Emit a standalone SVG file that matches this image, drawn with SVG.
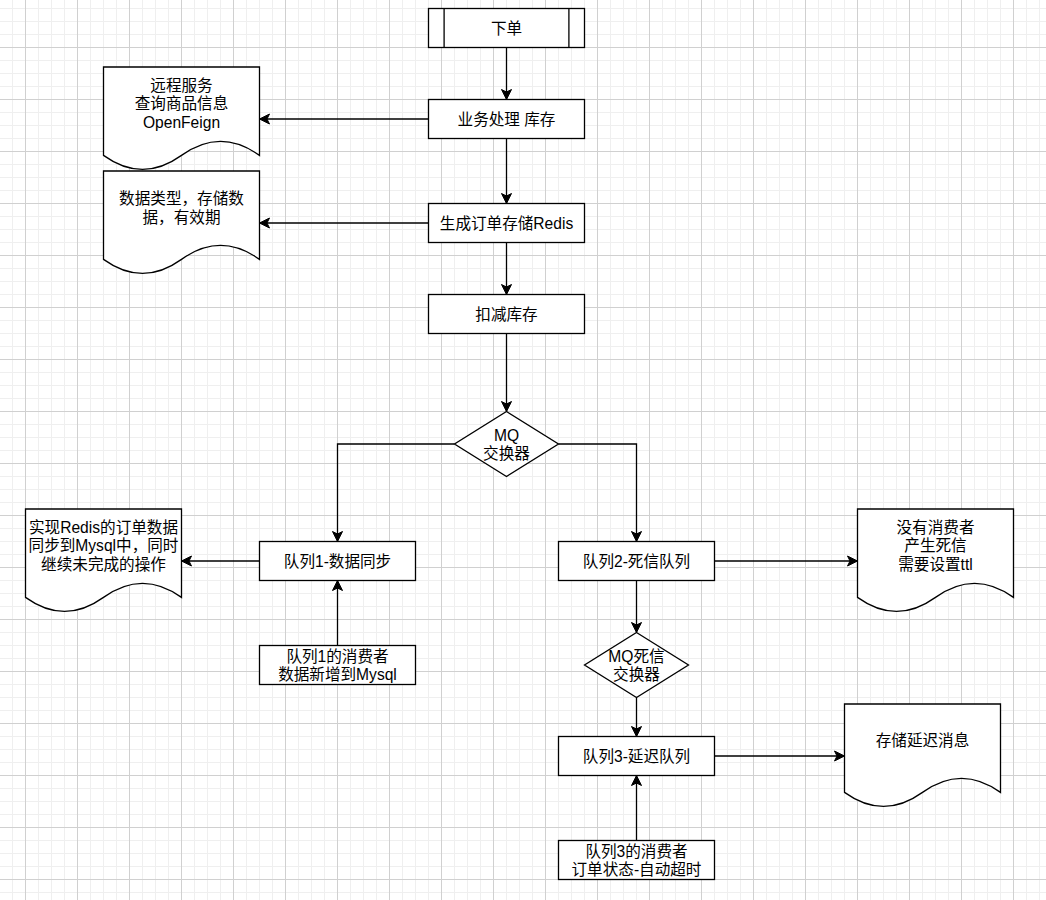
<svg xmlns="http://www.w3.org/2000/svg" width="1046" height="900" viewBox="0 0 1046 900">
  <style>
    .shape { fill: #ffffff; stroke: #000000; stroke-width: 1.3; }
    .edge { fill: none; stroke: #000000; stroke-width: 1.3; marker-end: url(#arrow); }
    .lbl { font-family: "Liberation Sans", "Noto Sans CJK SC", sans-serif; font-size: 15.6px; fill: #000000; text-anchor: middle; dominant-baseline: central; }
  </style>
  <defs>
    <pattern id="minor" patternUnits="userSpaceOnUse" x="12" y="8" width="13" height="13">
      <path d="M0.5,0 V13 M0,0.5 H13" fill="none" stroke="#efefef" stroke-width="1"/>
    </pattern>
    <pattern id="major" patternUnits="userSpaceOnUse" x="25" y="47" width="52" height="52">
      <path d="M0.5,0 V52 M0,0.5 H52" fill="none" stroke="#d0d0d0" stroke-width="1"/>
    </pattern>
    <marker id="arrow" markerUnits="userSpaceOnUse" markerWidth="12" markerHeight="12" refX="10" refY="5" orient="auto" overflow="visible">
      <path d="M10,5 L0,0 L2.5,5 L0,10 Z" fill="#000000" stroke="#000000" stroke-width="1"/>
    </marker>
    <path id="doc" d="M0,0 L156,0 L156,88.4 Q117,60.32 78,88.4 Q39,116.48 0,88.4 Z"/>
  </defs>

  <rect x="0" y="0" width="1046" height="900" fill="#ffffff"/>
  <rect x="0" y="0" width="1046" height="900" fill="url(#minor)"/>
  <rect x="0" y="0" width="1046" height="900" fill="url(#major)"/>

  <g id="connectors">
    <path class="edge" d="M506.5,47.5 V99.5"/>
    <path class="edge" d="M506.5,138.5 V203.5"/>
    <path class="edge" d="M506.5,242.5 V294.5"/>
    <path class="edge" d="M506.5,333.5 V411.5"/>
    <path class="edge" d="M428.5,119 H259.5"/>
    <path class="edge" d="M428.5,223 H259.5"/>
    <path class="edge" d="M454.5,444 H337.5 V541.5"/>
    <path class="edge" d="M558.5,444 H636.5 V541.5"/>
    <path class="edge" d="M259.5,561 H181.5"/>
    <path class="edge" d="M337.5,645.5 V580.5"/>
    <path class="edge" d="M714.5,561 H857.5"/>
    <path class="edge" d="M636.5,580.5 V632.5"/>
    <path class="edge" d="M636.5,697.5 V736.5"/>
    <path class="edge" d="M636.5,840.5 V775.5"/>
    <path class="edge" d="M714.5,756 H844.5"/>
  </g>

  <g id="node-order">
    <rect class="shape" x="428.5" y="8.5" width="156" height="39"/>
    <path class="shape" d="M444.1,8.5 V47.5 M568.9,8.5 V47.5"/>
    <text class="lbl" x="506.5" y="28">下单</text>
  </g>

  <g id="node-business">
    <rect class="shape" x="428.5" y="99.5" width="156" height="39"/>
    <text class="lbl" x="506.5" y="119">业务处理 库存</text>
  </g>

  <g id="node-redis">
    <rect class="shape" x="428.5" y="203.5" width="156" height="39"/>
    <text class="lbl" x="506.5" y="223">生成订单存储Redis</text>
  </g>

  <g id="node-deduct">
    <rect class="shape" x="428.5" y="294.5" width="156" height="39"/>
    <text class="lbl" x="506.5" y="314">扣减库存</text>
  </g>

  <g id="node-mq">
    <path class="shape" d="M506.5,411.5 L558.5,444 L506.5,476.5 L454.5,444 Z"/>
    <text class="lbl"><tspan x="506.5" y="434.6">MQ</tspan><tspan x="506.5" y="453.4">交换器</tspan></text>
  </g>

  <g id="doc-remote">
    <use href="#doc" class="shape" x="103.5" y="67"/>
    <text class="lbl"><tspan x="181.5" y="84.7">远程服务</tspan><tspan x="181.5" y="103.4">查询商品信息</tspan><tspan x="181.5" y="122.1">OpenFeign</tspan></text>
  </g>

  <g id="doc-datatype">
    <use href="#doc" class="shape" x="103.5" y="171"/>
    <text class="lbl"><tspan x="181.5" y="198">数据类型，存储数</tspan><tspan x="181.5" y="216.8">据，有效期</tspan></text>
  </g>

  <g id="node-queue1">
    <rect class="shape" x="259.5" y="541.5" width="156" height="39"/>
    <text class="lbl" x="337.5" y="561">队列1-数据同步</text>
  </g>

  <g id="doc-sync">
    <use href="#doc" class="shape" x="25.5" y="509"/>
    <text class="lbl"><tspan x="103.5" y="526.7">实现Redis的订单数据</tspan><tspan x="103.5" y="545.4">同步到Mysql中，同时</tspan><tspan x="103.5" y="564.1">继续未完成的操作</tspan></text>
  </g>

  <g id="node-consumer1">
    <rect class="shape" x="259.5" y="645.5" width="156" height="39"/>
    <text class="lbl"><tspan x="337.5" y="655.6">队列1的消费者</tspan><tspan x="337.5" y="674.4">数据新增到Mysql</tspan></text>
  </g>

  <g id="node-queue2">
    <rect class="shape" x="558.5" y="541.5" width="156" height="39"/>
    <text class="lbl" x="636.5" y="561">队列2-死信队列</text>
  </g>

  <g id="doc-deadletter">
    <use href="#doc" class="shape" x="857.5" y="509"/>
    <text class="lbl"><tspan x="935.5" y="526.7">没有消费者</tspan><tspan x="935.5" y="545.4">产生死信</tspan><tspan x="935.5" y="564.1">需要设置ttl</tspan></text>
  </g>

  <g id="node-mq-dead">
    <path class="shape" d="M636.5,632.5 L688.5,665 L636.5,697.5 L584.5,665 Z"/>
    <text class="lbl"><tspan x="636.5" y="655.6">MQ死信</tspan><tspan x="636.5" y="674.4">交换器</tspan></text>
  </g>

  <g id="node-queue3">
    <rect class="shape" x="558.5" y="736.5" width="156" height="39"/>
    <text class="lbl" x="636.5" y="756">队列3-延迟队列</text>
  </g>

  <g id="doc-delay">
    <use href="#doc" class="shape" x="844.5" y="704"/>
    <text class="lbl" x="922.5" y="740.4">存储延迟消息</text>
  </g>

  <g id="node-consumer3">
    <rect class="shape" x="558.5" y="840.5" width="156" height="39"/>
    <text class="lbl"><tspan x="636.5" y="850.6">队列3的消费者</tspan><tspan x="636.5" y="869.4">订单状态-自动超时</tspan></text>
  </g>
</svg>
